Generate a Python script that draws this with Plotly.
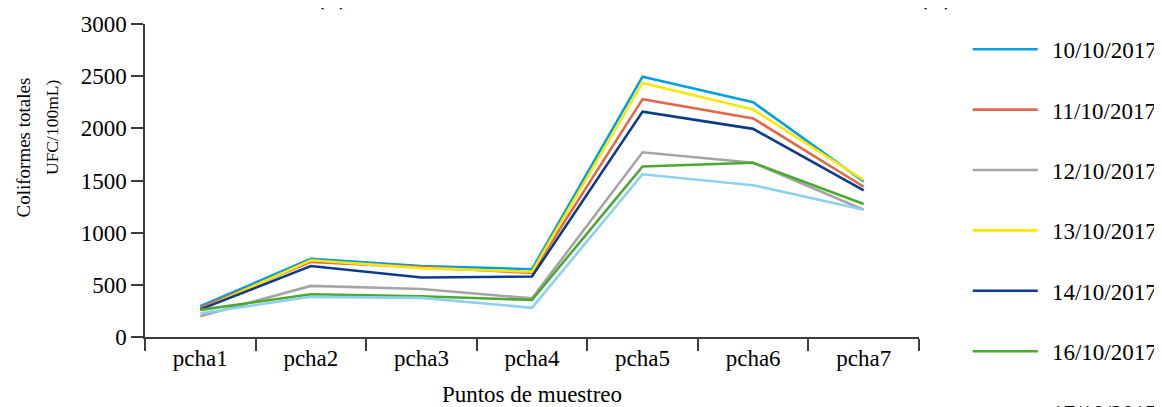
import plotly.graph_objects as go

puntos = ["pcha1", "pcha2", "pcha3", "pcha4", "pcha5", "pcha6", "pcha7"]
fechas = ["10/10/2017", "11/10/2017", "12/10/2017", "13/10/2017",
          "14/10/2017", "16/10/2017", "17/10/2017"]

s_10_10 = [295, 750, 680, 650, 2495, 2250, 1490]
s_11_10 = [280, 720, 670, 615, 2280, 2095, 1440]
s_12_10 = [200, 490, 460, 370, 1770, 1670, 1220]
s_13_10 = [260, 735, 660, 625, 2435, 2180, 1505]
s_14_10 = [265, 680, 570, 580, 2160, 1995, 1405]
s_16_10 = [260, 410, 390, 355, 1635, 1670, 1275]
s_17_10 = [228, 385, 375, 280, 1560, 1455, 1220]

series = [s_10_10, s_11_10, s_12_10, s_13_10, s_14_10, s_16_10, s_17_10]
colores = ["#00A0E2", "#E0694B", "#A5A5A5", "#FFE800", "#0B3C8A", "#4BA830", "#8DD1F2"]

FONT = "Liberation Serif, Times New Roman, serif"

fig = go.Figure()
for name, vals, col in zip(fechas, series, colores):
    fig.add_trace(go.Scatter(x=puntos, y=vals, mode="lines",
                             name="\u2009\u2009" + name,
                             legendgroup=name,
                             line=dict(color=col, width=2.6)))

axis_col = "#3c3c3c"
fig.update_layout(
    width=1154, height=399,
    margin=dict(l=137, r=243, t=16, b=70, autoexpand=False),
    paper_bgcolor="white", plot_bgcolor="white",
    font=dict(family=FONT, size=23, color="black"),
    showlegend=True,
    legend=dict(x=1.063, y=0.988, xanchor="left", yanchor="top",
                font=dict(family=FONT, size=23, color="black"),
                itemwidth=65, tracegroupgap=27.5, maxheight=1000,
                bgcolor="rgba(0,0,0,0)", traceorder="grouped"),
    xaxis=dict(type="category", range=[-0.5, 6.5], showgrid=False,
               showline=True, linecolor=axis_col, linewidth=1.5,
               ticks="outside", tickson="boundaries", ticklen=12,
               tickcolor=axis_col, tickwidth=1.5,
               tickfont=dict(family=FONT, size=23, color="black"),
               title=dict(text="Puntos de muestreo", standoff=17,
                          font=dict(family=FONT, size=23, color="black"))),
    yaxis=dict(range=[0, 3000], tickvals=[0, 500, 1000, 1500, 2000, 2500, 3000],
               showgrid=False, zeroline=False,
               showline=True, linecolor=axis_col, linewidth=1.5,
               ticks="outside", ticklen=12, tickcolor=axis_col, tickwidth=1.5,
               tickfont=dict(family=FONT, size=23, color="black")),
    annotations=[
        dict(text="Coliformes totales", textangle=-90,
             xref="paper", yref="paper", x=(23 - 145) / 774, y=(337 - 147.5) / 313,
             xanchor="center", yanchor="middle",
             showarrow=False, font=dict(family=FONT, size=19, color="black")),
        dict(text="UFC/100mL)", textangle=-90,
             xref="paper", yref="paper", x=(52 - 145) / 774, y=(337 - 128) / 313,
             xanchor="center", yanchor="middle",
             showarrow=False, font=dict(family=FONT, size=17.5, color="black")),
        dict(text="(a)", xref="paper", yref="paper", x=(332 - 145) / 774, y=1.102,
             xanchor="center", yanchor="middle", showarrow=False,
             font=dict(family=FONT, size=32, color="black")),
        dict(text="(b)", xref="paper", yref="paper", x=(936 - 145) / 774, y=1.102,
             xanchor="center", yanchor="middle", showarrow=False,
             font=dict(family=FONT, size=32, color="black")),
    ],
)

fig.write_html("out.html")
